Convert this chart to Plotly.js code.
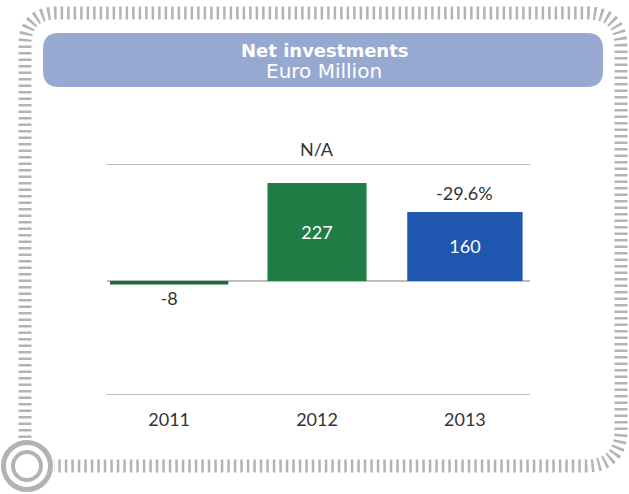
<!DOCTYPE html>
<html><head><meta charset="utf-8">
<script src="https://cdn.plot.ly/plotly-3.0.1.min.js"></script>
<style>html,body{margin:0;padding:0;background:#fff}#chart{width:629px;height:494px}</style>
</head><body><div id="chart"></div>
<script>
const years = ['2011', '2012', '2013'];
const values = [-8, 227, 160];
const changes = ['', 'N/A', '-29.6%'];
const gridValues = [-264, 0, 271];
const titleMain = 'Net investments';
const titleSub = 'Euro Million';

const W = 629, H = 494;
const L = 107, R = 530, T = 164, B = 395;
const X = px => (px - L) / (R - L);
const Y = py => (B - py) / (B - T);
const P = (px, py) => X(px).toFixed(4) + ',' + Y(py).toFixed(4);

function roundRect(x0, y0, x1, y1, r) {
  return 'M' + P(x0 + r, y0) + ' L' + P(x1 - r, y0) + ' Q' + P(x1, y0) + ' ' + P(x1, y0 + r) +
    ' L' + P(x1, y1 - r) + ' Q' + P(x1, y1) + ' ' + P(x1 - r, y1) +
    ' L' + P(x0 + r, y1) + ' Q' + P(x0, y1) + ' ' + P(x0, y1 - r) +
    ' L' + P(x0, y0 + r) + ' Q' + P(x0, y0) + ' ' + P(x0 + r, y0) + ' Z';
}
function framePath() {
  const l = 25, r = 621, t = 13, b = 466;
  return 'M' + P(l, 438) + ' L' + P(l, t + 32) + ' Q' + P(l, t) + ' ' + P(l + 32, t) +
    ' L' + P(r - 34, t) + ' Q' + P(r, t) + ' ' + P(r, t + 34) +
    ' L' + P(r, b - 36) + ' Q' + P(r, b) + ' ' + P(r - 36, b) + ' L' + P(54, b);
}

const colors = ['#1c6a3b', '#1f7d45', '#1f56b0'];

const trace = {
  type: 'bar',
  x: years,
  y: values,
  width: [0.8, 0.67, 0.78],
  marker: { color: colors, line: { width: 0 } },
  text: values.map(String),
  textposition: values.map(v => v < 0 ? 'outside' : 'inside'),
  insidetextanchor: 'middle',
  insidetextfont: { color: '#ffffff', size: 18, family: 'Lato, sans-serif' },
  outsidetextfont: { color: '#333333', size: 18, family: 'Lato, sans-serif' },
  textangle: 0,
  cliponaxis: false,
  hoverinfo: 'skip'
};

const annotations = [];
changes.forEach((c, i) => {
  if (!c) return;
  annotations.push({
    x: i, xref: 'x',
    y: c === 'N/A' ? gridValues[2] : values[i], yref: 'y',
    yanchor: 'bottom', yshift: c === 'N/A' ? 2 : 6,
    text: c, showarrow: false,
    font: { size: 18, color: '#333333', family: 'Lato, sans-serif' }
  });
});
annotations.push({
  xref: 'paper', yref: 'paper', x: X(324), y: Y(50), xanchor: 'center', yanchor: 'middle',
  text: '<b>' + titleMain + '</b>', showarrow: false,
  font: { size: 18, color: '#ffffff', family: 'DejaVu Sans, sans-serif' }
});
annotations.push({
  xref: 'paper', yref: 'paper', x: X(324), y: Y(71), xanchor: 'center', yanchor: 'middle',
  text: titleSub, showarrow: false,
  font: { size: 20, color: '#ffffff', family: 'DejaVu Sans, sans-serif' }
});

const shapes = [
  { type: 'path', xref: 'paper', yref: 'paper', layer: 'below', path: framePath(),
    line: { color: '#b3b3b3', width: 13, dash: '2.5px,4px' }, fillcolor: 'rgba(0,0,0,0)' },
  { type: 'path', xref: 'paper', yref: 'paper', layer: 'below', path: roundRect(43, 33, 603, 87, 16),
    line: { width: 0 }, fillcolor: '#97a9d1' },
  { type: 'circle', xref: 'paper', yref: 'paper', layer: 'below',
    x0: X(27 - 23.5), x1: X(27 + 23.5), y0: Y(466 + 23.5), y1: Y(466 - 23.5),
    line: { color: '#b3b3b3', width: 5 }, fillcolor: '#ffffff' },
  { type: 'circle', xref: 'paper', yref: 'paper', layer: 'below',
    x0: X(27 - 14), x1: X(27 + 14), y0: Y(466 + 14), y1: Y(466 - 14),
    line: { color: '#b3b3b3', width: 4 }, fillcolor: '#ffffff' }
].concat(gridValues.map(g => ({
  type: 'line', xref: 'paper', yref: 'y', layer: 'below',
  x0: 0, x1: 1, y0: g, y1: g, line: { color: '#bcbcbc', width: 2 }
})));

const layout = {
  width: W, height: H,
  margin: { l: L, r: W - R, t: T, b: H - B, pad: 0 },
  paper_bgcolor: '#ffffff', plot_bgcolor: 'rgba(0,0,0,0)',
  showlegend: false,
  font: { family: 'Lato, sans-serif', color: '#333333' },
  xaxis: {
    type: 'category', range: [-0.42, 2.44], showgrid: false, zeroline: false,
    showline: false, ticks: '', tickfont: { size: 18, color: '#333333' },
    ticklabelstandoff: 12, fixedrange: true
  },
  yaxis: {
    range: [-264, 271], showticklabels: false, ticks: '',
    showgrid: false, zeroline: false, showline: false,
    fixedrange: true
  },
  shapes: shapes,
  annotations: annotations
};

Plotly.newPlot('chart', [trace], layout, { displayModeBar: false, staticPlot: true });
</script>
</body></html>
